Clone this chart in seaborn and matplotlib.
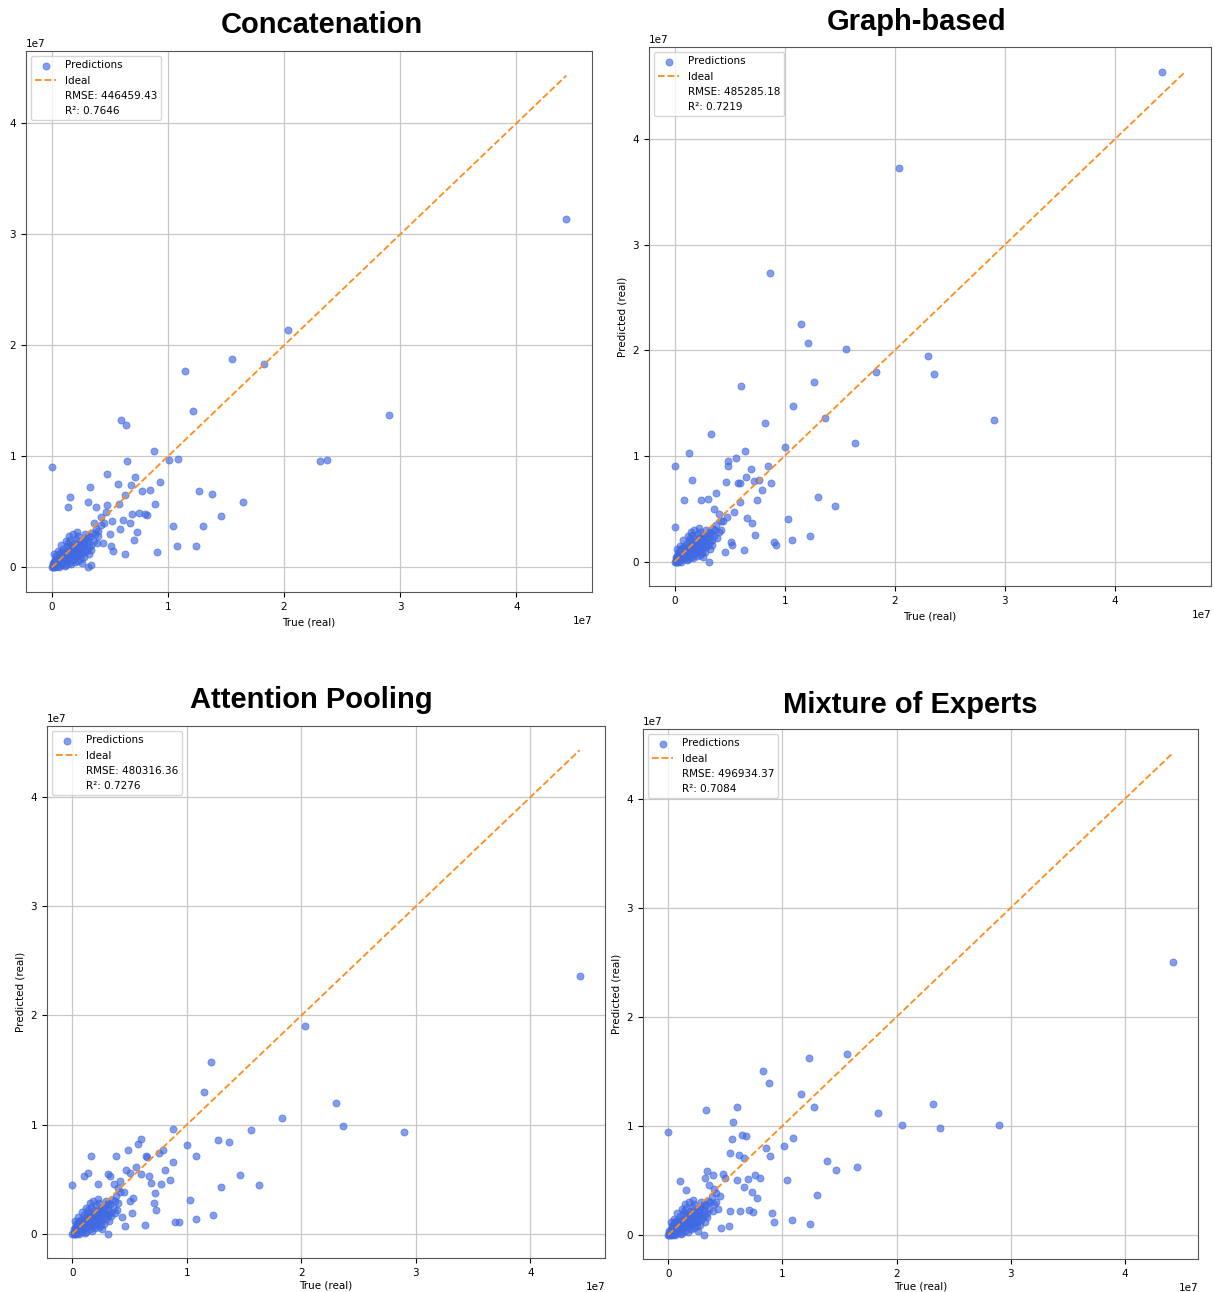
import matplotlib
matplotlib.use("Agg")
import matplotlib.pyplot as plt
from matplotlib.lines import Line2D
import numpy as np
import seaborn as sns

# values in units of 1e7
# dense cluster near the origin, looks the same in all four panels
cluster_true = [0.00, 0.01, 0.01, 0.02, 0.02, 0.03, 0.03, 0.04, 0.04, 0.05,
                0.05, 0.06, 0.06, 0.07, 0.07, 0.08, 0.08, 0.09, 0.09, 0.10,
                0.10, 0.11, 0.11, 0.12, 0.12, 0.13, 0.13, 0.14, 0.14, 0.15,
                0.15, 0.16, 0.16, 0.17, 0.17, 0.18, 0.18, 0.19, 0.19, 0.20,
                0.20, 0.21, 0.21, 0.22, 0.22, 0.23, 0.23, 0.24, 0.25, 0.25,
                0.26, 0.27, 0.28, 0.28, 0.29, 0.30, 0.31, 0.32, 0.33, 0.34,
                0.02, 0.05, 0.08, 0.12, 0.15, 0.18, 0.22, 0.26, 0.03, 0.06,
                0.35, 0.36, 0.38, 0.40, 0.42,
                0.01, 0.03, 0.04, 0.06, 0.07, 0.09, 0.10, 0.12, 0.13, 0.15,
                0.16, 0.18, 0.19, 0.21, 0.22, 0.24, 0.25, 0.27, 0.29, 0.30,
                0.32, 0.02, 0.05, 0.08, 0.11, 0.14, 0.17, 0.20, 0.23, 0.26,
                0.28, 0.31, 0.34, 0.37, 0.39]
cluster_pred = [0.00, 0.02, 0.00, 0.05, 0.01, 0.08, 0.02, 0.03, 0.10, 0.01,
                0.06, 0.12, 0.03, 0.05, 0.09, 0.02, 0.14, 0.07, 0.11, 0.04,
                0.17, 0.08, 0.13, 0.02, 0.10, 0.19, 0.06, 0.12, 0.22, 0.04,
                0.15, 0.09, 0.25, 0.13, 0.03, 0.18, 0.07, 0.22, 0.11, 0.15,
                0.05, 0.26, 0.18, 0.10, 0.21, 0.13, 0.28, 0.17, 0.08, 0.22,
                0.14, 0.25, 0.19, 0.09, 0.30, 0.16, 0.23, 0.12, 0.27, 0.20,
                0.12, 0.15, 0.20, 0.24, 0.28, 0.30, 0.32, 0.04, 0.00, 0.00,
                0.31, 0.24, 0.35, 0.28, 0.38,
                0.04, 0.05, 0.07, 0.08, 0.12, 0.05, 0.13, 0.07, 0.15, 0.11,
                0.19, 0.14, 0.17, 0.09, 0.16, 0.22, 0.12, 0.20, 0.14, 0.26,
                0.18, 0.00, 0.03, 0.05, 0.01, 0.08, 0.10, 0.12, 0.06, 0.19,
                0.24, 0.28, 0.16, 0.30, 0.22]

concat_true = [4.43, 2.90, 2.31, 2.37, 2.03, 1.83, 1.55, 1.15, 1.22, 0.60,
               0.64, 0.88, 1.01, 1.09, 0.00, 0.65, 0.48, 0.72, 0.57, 0.68,
               0.33, 0.93, 0.85, 0.78, 1.27, 1.38, 1.65, 0.16, 0.14, 0.31,
               0.89, 0.48, 0.38, 0.63, 0.58, 0.69, 0.75, 0.80, 0.82, 1.46,
               1.04, 1.30, 0.61, 0.67, 0.59, 0.73, 0.71, 0.51, 0.53, 0.91,
               1.08, 1.24, 0.63, 0.31, 0.34, 0.45, 0.42, 0.40, 0.50, 0.44,
               0.36, 0.47, 0.52]
concat_pred = [3.14, 1.37, 0.96, 0.97, 2.14, 1.83, 1.88, 1.77, 1.41, 1.33,
               1.28, 1.05, 0.97, 0.98, 0.90, 0.96, 0.84, 0.81, 0.75, 0.74,
               0.72, 0.77, 0.70, 0.69, 0.69, 0.66, 0.59, 0.63, 0.54, 0.59,
               0.57, 0.56, 0.54, 0.65, 0.57, 0.48, 0.49, 0.48, 0.47, 0.46,
               0.37, 0.37, 0.43, 0.40, 0.35, 0.32, 0.25, 0.19, 0.15, 0.14,
               0.19, 0.19, 0.12, 0.00, 0.02, 0.40, 0.45, 0.33, 0.30, 0.22,
               0.40, 0.50, 0.42]

graph_true = [4.43, 2.04, 0.87, 1.15, 1.21, 1.56, 1.83, 2.30, 2.36, 2.90,
              1.64, 0.60, 1.27, 1.08, 1.37, 0.82, 0.33, 0.13, 0.64, 1.00,
              0.00, 0.49, 0.56, 0.49, 0.69, 0.85, 0.16, 0.47, 0.58, 0.59,
              0.65, 0.72, 0.77, 0.79, 0.88, 1.30, 1.46, 0.09, 0.24, 0.30,
              0.38, 0.75, 0.59, 0.54, 1.03, 0.66, 0.70, 0.00, 0.73, 1.23,
              1.07, 0.90, 0.92, 0.63, 0.46, 0.51, 0.52, 0.31, 0.40, 0.44,
              0.36, 0.42, 0.48]
graph_pred = [4.64, 3.73, 2.73, 2.25, 2.07, 2.01, 1.79, 1.95, 1.78, 1.34,
              1.12, 1.66, 1.70, 1.47, 1.36, 1.31, 1.21, 1.03, 1.05, 1.08,
              0.90, 0.95, 0.98, 0.90, 0.88, 0.90, 0.77, 0.75, 0.74, 0.74,
              0.80, 0.76, 0.77, 0.68, 0.74, 0.61, 0.53, 0.58, 0.58, 0.59,
              0.65, 0.58, 0.56, 0.47, 0.40, 0.41, 0.36, 0.33, 0.25, 0.24,
              0.20, 0.18, 0.16, 0.11, 0.09, 0.18, 0.16, 0.00, 0.45, 0.38,
              0.50, 0.30, 0.42]

attn_true = [4.43, 2.03, 1.21, 1.15, 1.83, 2.30, 2.36, 2.90, 0.88, 1.00,
             1.08, 1.27, 1.37, 1.56, 1.46, 1.63, 1.30, 1.03, 1.08, 1.23,
             0.90, 0.93, 0.60, 0.57, 0.49, 0.79, 0.76, 0.64, 0.65, 0.38,
             0.16, 0.00, 0.10, 0.14, 0.22, 0.31, 0.33, 0.47, 0.50, 0.56,
             0.60, 0.67, 0.69, 0.81, 0.77, 0.85, 0.88, 0.72, 0.71, 0.73,
             0.53, 0.52, 0.46, 0.63, 0.31, 0.37, 0.43, 0.40, 0.45, 0.36,
             0.50, 0.42]
attn_pred = [2.36, 1.90, 1.57, 1.30, 1.06, 1.20, 0.99, 0.93, 0.96, 0.81,
             0.71, 0.86, 0.84, 0.95, 0.54, 0.45, 0.43, 0.31, 0.14, 0.17,
             0.11, 0.11, 0.87, 0.82, 0.77, 0.77, 0.74, 0.71, 0.70, 0.71,
             0.71, 0.45, 0.53, 0.56, 0.46, 0.55, 0.53, 0.58, 0.56, 0.61,
             0.55, 0.53, 0.47, 0.58, 0.46, 0.49, 0.66, 0.37, 0.28, 0.22,
             0.33, 0.19, 0.07, 0.08, 0.00, 0.19, 0.15, 0.42, 0.38, 0.46,
             0.30, 0.48]

moe_true = [4.42, 1.57, 1.23, 0.83, 0.88, 1.16, 1.28, 1.84, 2.32, 2.05,
            2.38, 2.90, 0.33, 0.60, 0.57, 0.00, 0.65, 0.68, 0.56, 1.09,
            0.86, 1.01, 0.89, 0.54, 0.62, 0.66, 1.39, 1.47, 1.65, 1.04,
            1.30, 1.08, 1.24, 0.91, 0.93, 0.10, 0.16, 0.34, 0.32, 0.39,
            0.48, 0.50, 0.60, 0.66, 0.70, 0.76, 0.80, 0.73, 0.78, 0.63,
            0.71, 0.74, 0.54, 0.44, 0.46, 0.53, 0.31, 0.40, 0.45, 0.36,
            0.42]
moe_pred = [2.50, 1.66, 1.62, 1.50, 1.39, 1.29, 1.17, 1.12, 1.20, 1.01,
            0.98, 1.01, 1.15, 1.17, 1.04, 0.94, 0.92, 0.91, 0.88, 0.89,
            0.80, 0.82, 0.72, 0.75, 0.73, 0.71, 0.68, 0.60, 0.62, 0.50,
            0.37, 0.14, 0.10, 0.20, 0.12, 0.49, 0.41, 0.59, 0.52, 0.55,
            0.56, 0.52, 0.50, 0.44, 0.51, 0.55, 0.52, 0.39, 0.34, 0.22,
            0.23, 0.21, 0.22, 0.24, 0.06, 0.08, 0.00, 0.42, 0.36, 0.46,
            0.30]

titles = ["Concatenation", "Graph-based", "Attention Pooling", "Mixture of Experts"]
rmse_vals = ["446459.43", "485285.18", "480316.36", "496934.37"]
r2_vals = ["0.7646", "0.7219", "0.7276", "0.7084"]
true_sets = [concat_true, graph_true, attn_true, moe_true]
pred_sets = [concat_pred, graph_pred, attn_pred, moe_pred]

W, H = 1215, 1292
# axes boxes in pixels: left, top, right, bottom
boxes = [(26, 51, 592, 592), (649, 47, 1211, 586),
         (47, 726, 605, 1258), (643, 729, 1198, 1259)]
title_pos = [(322, 25), (917, 22), (311, 700), (910, 705)]

fig = plt.figure(figsize=(W / 100, H / 100), dpi=100)
plt.rcParams['font.size'] = 7.5

for i in range(4):
    l, t, r, b = boxes[i]
    ax = fig.add_axes([l / W, 1 - b / H, (r - l) / W, (b - t) / H])
    y_true = np.array(cluster_true + true_sets[i]) * 1e7
    y_pred = np.array(cluster_pred + pred_sets[i]) * 1e7

    sns.scatterplot(x=y_true, y=y_pred, ax=ax, color='royalblue', alpha=0.65,
                    s=26, edgecolor='royalblue', linewidth=0.6, label='Predictions')
    lims = [min(y_true.min(), y_pred.min()), max(y_true.max(), y_pred.max())]
    ax.plot(lims, lims, '--', color='#ff8c1a', lw=1.3, label='Ideal')

    handles, labels = ax.get_legend_handles_labels()
    handles += [Line2D([], [], linestyle='none'), Line2D([], [], linestyle='none')]
    labels += [f"RMSE: {rmse_vals[i]}", f"R²: {r2_vals[i]}"]
    ax.legend(handles, labels, loc='upper left', fontsize=7.5)

    ax.grid(True, color='#c8c8c8', linewidth=0.9)
    ax.set_axisbelow(True)
    ax.tick_params(labelsize=7.5)
    ax.set_xlabel('True (real)', fontsize=7.5, labelpad=2 if i > 1 else 4)
    if i > 0:
        ax.set_ylabel('Predicted (real)', fontsize=7.5)
    for sp in ax.spines.values():
        sp.set_color('#555555')

    tx, ty = title_pos[i]
    fig.text(tx / W, 1 - ty / H, titles[i], ha='center', va='center',
             fontsize=21, fontweight='bold', family='Liberation Sans')

fig.savefig('out.png', dpi=100)
